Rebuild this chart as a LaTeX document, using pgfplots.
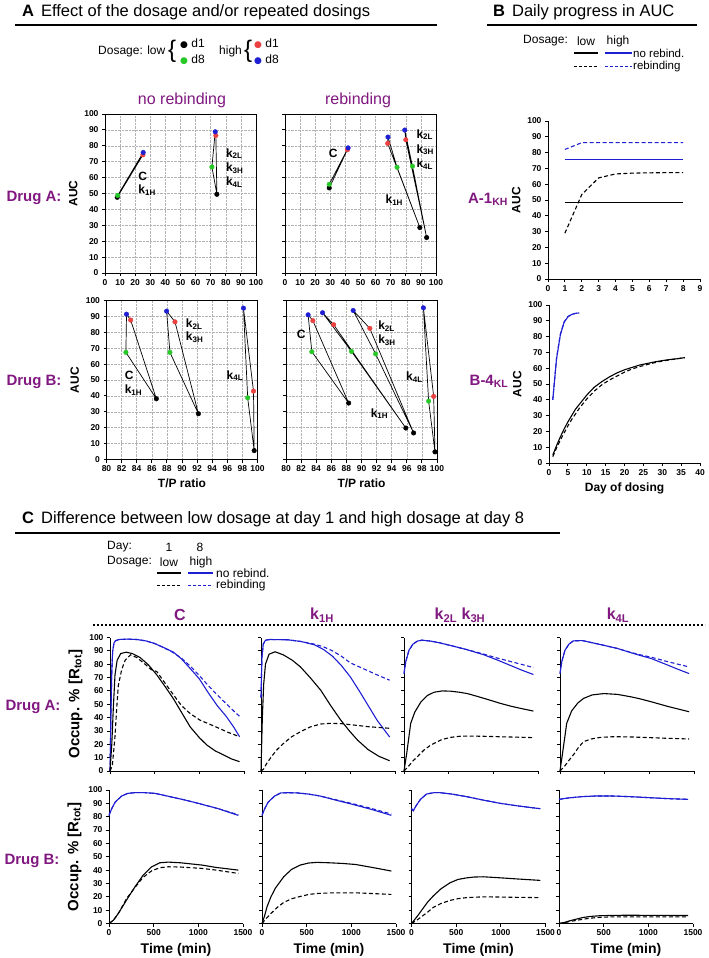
\documentclass[border=0pt]{standalone}
\usepackage{pgfplots}
\pgfplotsset{compat=1.18}
\usepackage{fontspec}
\setmainfont{Liberation Sans}
\newfontfamily\dejavu{DejaVu Sans}
\definecolor{mypurple}{RGB}{128,24,128}
\definecolor{myblue}{RGB}{30,30,210}
\definecolor{myred}{RGB}{235,65,65}
\definecolor{mygreen}{RGB}{40,200,40}
\newcommand{\fs}[1]{\fontsize{#1}{#1}\selectfont}
\tikzset{lab/.style={font=\bfseries\fs{12}, anchor=west, inner sep=0pt}}
\pgfplotsset{
  base/.style={scale only axis, anchor=south west,
    axis line style={line width=1pt, black},
    major tick style={line width=0.9pt, black},
    tick align=outside, major tick length=3pt,
    tick label style={font=\bfseries\fs{8.5}},
    /pgf/number format/assume math mode=true,
    /pgf/number format/1000 sep={},
    label style={font=\bfseries\fs{12}},
    clip=false},
  Abox/.style={base, width=151pt, height=159pt, ymin=0, ymax=100, ytick={0,10,...,100},
    grid=major, grid style={densely dotted, gray!60, line width=0.5pt}, tick pos=left},
  Bax/.style={base, width=152pt, height=158pt, ymin=0, ymax=100, ytick={0,10,...,100},
    axis x line*=bottom, axis y line*=left, tick pos=left},
  Cax/.style={base, width=134pt, height=133.5pt, xmin=0, xmax=1500, ymin=0, ymax=100,
    xtick={0,500,1000,1500}, ytick={0,10,...,100},
    axis x line*=bottom, axis y line*=left, tick pos=left,
    ylabel style={font=\bfseries\fs{15}}, xlabel style={font=\bfseries\fs{14}}},
  lk/.style={black, line width=0.7pt, mark=none},
  dk/.style={only marks, mark=*, mark size=2.3pt, black},
  dr/.style={only marks, mark=*, mark size=2.3pt, myred, mark options={fill=myred, draw=myred}},
  dg/.style={only marks, mark=*, mark size=2.3pt, mygreen, mark options={fill=mygreen, draw=mygreen}},
  db/.style={only marks, mark=*, mark size=2.3pt, myblue, mark options={fill=myblue, draw=myblue}},
  ks/.style={black, line width=1.1pt, mark=none},
  kd/.style={black, line width=1.1pt, mark=none, dash pattern=on 4pt off 2.5pt},
  bs/.style={myblue, line width=1.1pt, mark=none},
  bd/.style={myblue, line width=1.1pt, mark=none, dash pattern=on 4pt off 2.5pt},
}
\begin{document}
\begin{tikzpicture}
\useasboundingbox (0pt,0pt) rectangle (709pt,-958pt);

% A1 Drug A, no rebinding
\begin{axis}[Abox, at={(105pt,-273pt)}, xmin=0, xmax=100, xtick={0,10,...,100}, ylabel={AUC}]
\addplot[lk] coordinates {(8.1,47.6)(8.4,48.8)(25.3,75.8)(25.1,74.3)(8.1,47.6)};
\addplot[lk] coordinates {(74.1,49.5)(70.8,66.7)(73,88.8)(73.4,86.5)(74.1,49.5)};
\addplot[dk] coordinates {(8.1,47.6)(74.1,49.5)};
\addplot[dr] coordinates {(25.1,74.3)(73.4,86.5)};
\addplot[dg] coordinates {(8.4,48.8)(70.8,66.7)};
\addplot[db] coordinates {(25.3,75.8)(73,88.8)};
\node[lab] at (axis cs:22,61) {C};
\node[lab] at (axis cs:22,52) {k\textsubscript{1H}};
\node[lab] at (axis cs:80,75) {k\textsubscript{2L}};
\node[lab] at (axis cs:80,66) {k\textsubscript{3H}};
\node[lab] at (axis cs:80,57) {k\textsubscript{4L}};
\end{axis}

% A2 Drug A, rebinding
\begin{axis}[Abox, at={(285pt,-273pt)}, xmin=0, xmax=100, xtick={0,10,...,100}, yticklabels={}]
\addplot[lk] coordinates {(29.3,53.5)(29.3,55.8)(41.8,78.7)(41.3,77.5)(29.3,53.5)};
\addplot[lk] coordinates {(89.3,28.6)(74.2,66.5)(68.2,85.5)(68,81.5)(89.3,28.6)};
\addplot[lk] coordinates {(93.8,22.3)(84.4,67.2)(79.3,89.9)(80,83.8)(93.8,22.3)};
\addplot[dk] coordinates {(29.3,53.5)(89.3,28.6)(93.8,22.3)};
\addplot[dr] coordinates {(41.3,77.5)(68,81.5)(80,83.8)};
\addplot[dg] coordinates {(29.3,55.8)(74.2,66.5)(84.4,67.2)};
\addplot[db] coordinates {(41.8,78.7)(68.2,85.5)(79.3,89.9)};
\node[lab] at (axis cs:29,75.4) {C};
\node[lab] at (axis cs:66.5,46) {k\textsubscript{1H}};
\node[lab] at (axis cs:87,87) {k\textsubscript{2L}};
\node[lab] at (axis cs:87,77.5) {k\textsubscript{3H}};
\node[lab] at (axis cs:87,68.5) {k\textsubscript{4L}};
\end{axis}

% A3 Drug B, no rebinding
\begin{axis}[Abox, at={(106.5pt,-459.5pt)}, xmin=80, xmax=100, xtick={80,82,...,100}, ylabel={AUC}, xlabel={T/P ratio}]
\addplot[lk] coordinates {(86.6,38.2)(82.57,67.4)(82.65,91.4)(83.2,87.7)(86.6,38.2)};
\addplot[lk] coordinates {(92.17,28.8)(88.4,67.4)(87.96,93.3)(89.07,86.6)(92.17,28.8)};
\addplot[lk] coordinates {(99.56,5.6)(98.7,38.8)(98.14,95.2)(99.47,43)(99.56,5.6)};
\addplot[dk] coordinates {(86.6,38.2)(92.17,28.8)(99.56,5.6)};
\addplot[dr] coordinates {(83.2,87.7)(89.07,86.6)(99.47,43)};
\addplot[dg] coordinates {(82.57,67.4)(88.4,67.4)(98.7,38.8)};
\addplot[db] coordinates {(82.65,91.4)(87.96,93.3)(98.14,95.2)};
\node[lab] at (axis cs:82.4,52.8) {C};
\node[lab] at (axis cs:82.4,43.4) {k\textsubscript{1H}};
\node[lab] at (axis cs:90.5,85) {k\textsubscript{2L}};
\node[lab] at (axis cs:90.5,76.8) {k\textsubscript{3H}};
\node[lab] at (axis cs:95.9,52.8) {k\textsubscript{4L}};
\end{axis}

% A4 Drug B, rebinding
\begin{axis}[Abox, at={(286pt,-459.5pt)}, xmin=80, xmax=100, xtick={80,82,...,100}, yticklabels={}, xlabel={T/P ratio}]
\addplot[lk] coordinates {(88.3,35.5)(83.42,67.8)(82.93,91)(83.56,87.3)(88.3,35.5)};
\addplot[lk] coordinates {(95.87,19.8)(88.67,68)(84.84,92.3)(86.31,84.8)(95.87,19.8)};
\addplot[lk] coordinates {(96.9,16.7)(91.87,66.4)(88.9,93.7)(91.1,82.5)(96.9,16.7)};
\addplot[lk] coordinates {(99.73,4.8)(98.89,36.7)(98.2,95.4)(99.56,39.7)(99.73,4.8)};
\addplot[dk] coordinates {(88.3,35.5)(95.87,19.8)(96.9,16.7)(99.73,4.8)};
\addplot[dr] coordinates {(83.56,87.3)(86.31,84.8)(91.1,82.5)(99.56,39.7)};
\addplot[dg] coordinates {(83.42,67.8)(88.67,68)(91.87,66.4)(98.89,36.7)};
\addplot[db] coordinates {(82.93,91)(84.84,92.3)(88.9,93.7)(98.2,95.4)};
\node[lab] at (axis cs:81.4,79) {C};
\node[lab] at (axis cs:91.2,28.8) {k\textsubscript{1H}};
\node[lab] at (axis cs:92.2,84) {k\textsubscript{2L}};
\node[lab] at (axis cs:92.2,75) {k\textsubscript{3H}};
\node[lab] at (axis cs:95.9,51.8) {k\textsubscript{4L}};
\end{axis}

% B plots
\begin{axis}[Bax, at={(548pt,-279pt)}, xmin=0, xmax=9, xtick={0,...,9}, ylabel={AUC}]
\addplot[ks] coordinates {(1,48.5)(8,48.5)};
\addplot[bs] coordinates {(1,75.5)(8,75.5)};
\addplot[kd] coordinates {(1,29)(2,53.5)(3,64)(4,66.5)(5,67)(6,67.2)(7,67.3)(8,67.3)};
\addplot[bd] coordinates {(1,82)(2,86.3)(3,86.3)(4,86.3)(5,86.3)(6,86.3)(7,86.3)(8,86.3)};
\end{axis}

\begin{axis}[Bax, at={(549pt,-463pt)}, width=151pt, xmin=0, xmax=40, xtick={0,5,...,40}, ylabel={AUC}, xlabel={Day of dosing}]
\addplot[bs] coordinates {(1,40)(2,66)(3,81)(4,89)(5,92.5)(6,94)(7,94.7)(8,95)};
\addplot[bd] coordinates {(1,40)(2,66.5)(3,81.5)(4,89.3)(5,92.7)(6,94.1)(7,94.7)(8,95)};
\addplot[ks] coordinates {(1,5)(2,11)(3,16.5)(4,21.5)(5,26)(6,30)(7,34)(8,37)(9,40)(10,43)(12,48)(14,51.5)(16,54.5)(18,57)(20,59)(22,60.5)(24,62)(26,63)(28,64)(30,64.8)(32,65.5)(34,66)(36,66.7)};
\addplot[kd] coordinates {(1,4)(2,9.5)(3,14.5)(4,19)(5,23.5)(6,27.5)(7,31)(8,34.5)(9,37.5)(10,40.5)(12,45.5)(14,49.5)(16,52.5)(18,55)(20,57.5)(22,59.5)(24,61)(26,62.3)(28,63.5)(30,64.5)(32,65.3)(34,66)(36,66.7)};
\end{axis}

% C top row (Drug A)
\begin{axis}[Cax, at={(110pt,-771pt)}, xticklabels={}, ylabel={Occup. \% [R\textsubscript{tot}]}]
\addplot[bd] coordinates {(0,0)(10,40)(20,75)(30,90)(45,96)(60,97.5)(100,98.5)(200,98.8)(300,98.5)(400,97.5)(500,95.5)(600,92.5)(700,89)(800,84.5)(900,78.5)(1000,71.5)(1100,64)(1200,57)(1300,50.5)(1400,44)(1450,41)};
\addplot[bs] coordinates {(0,0)(10,40)(20,75)(30,90)(45,96)(60,97.5)(100,98.5)(200,98.8)(300,98.5)(400,97.5)(500,95.5)(600,92.5)(711,89)(800,84)(935,74)(1000,69)(1100,58.6)(1200,49)(1300,41)(1384,33)(1450,25.7)};
\addplot[kd] coordinates {(0,0)(26,4)(40,14)(56,26)(75,47)(93,64)(131,76)(170,83)(230,87)(300,85)(411,79)(460,76)(524,74.5)(636,64)(711,57)(800,49)(898,43)(1010,38)(1100,35.5)(1197,32.7)(1320,29)(1450,25.7)};
\addplot[ks] coordinates {(0,0)(20,20)(37,47)(56,72)(80,83)(120,88)(180,89)(250,88)(337,85)(430,79.5)(524,72)(620,63)(711,54)(800,44)(898,33)(1000,25)(1085,19.4)(1180,15)(1272,12)(1360,9)(1450,7)};
\end{axis}

\begin{axis}[Cax, at={(261pt,-771pt)}, xticklabels={}, yticklabels={}]
\addplot[bd] coordinates {(0,55)(10,85)(25,95)(50,98)(100,98.5)(300,98.3)(450,97)(600,95)(700,93)(800,90)(900,86)(1000,81)(1100,78)(1200,75)(1300,72)(1440,68)};
\addplot[bs] coordinates {(0,55)(10,85)(25,95)(50,98)(100,98.5)(300,98.3)(450,97)(600,94.5)(700,91)(800,86)(900,79)(1000,70.5)(1100,60)(1200,49)(1300,38)(1440,25.5)};
\addplot[kd] coordinates {(0,0)(30,1.5)(64,5.7)(120,11)(180,16)(253,20.7)(340,25.5)(441,29.4)(550,33)(668,35.2)(780,35.7)(894,35.5)(1045,34.4)(1200,33.2)(1440,32)};
\addplot[ks] coordinates {(0,0)(15,40)(30,65)(50,80)(90,87.5)(158,89.3)(250,87)(350,83)(441,78)(550,70)(668,60.6)(780,49)(894,38)(990,30)(1083,23)(1200,16)(1320,11)(1440,7.7)};
\end{axis}

\begin{axis}[Cax, at={(404pt,-771pt)}, xticklabels={}, yticklabels={}]
\addplot[bd] coordinates {(0,73)(20,82)(56,90.5)(100,95)(149,97.3)(200,98)(300,97.3)(400,96)(522,94)(700,91)(896,87.5)(1050,84.5)(1194,82)(1320,79.8)(1448,77.5)};
\addplot[bs] coordinates {(0,73)(20,82)(56,90.5)(100,95)(149,97.3)(200,98)(300,97.3)(400,96)(522,94)(700,91)(896,87)(1050,83)(1194,79)(1320,75.5)(1448,72.3)};
\addplot[kd] coordinates {(0,0)(50,3.5)(100,7.5)(149,10.7)(220,15.5)(290,19)(336,20.7)(420,23.5)(522,25.2)(620,26)(709,26.2)(900,26)(1100,25.6)(1300,25.3)(1448,25)};
\addplot[ks] coordinates {(0,0)(30,13)(75,35.7)(120,44)(187,51.5)(260,56.5)(336,59)(430,60)(522,59.8)(620,59)(709,58)(800,56.3)(896,54.4)(1000,52.3)(1082,50.6)(1200,48.5)(1320,46.7)(1448,44.9)};
\end{axis}

\begin{axis}[Cax, at={(560pt,-771pt)}, xticklabels={}, yticklabels={}]
\addplot[bd] coordinates {(0,73)(20,82)(56,90.5)(100,95)(150,97.5)(250,97.7)(400,95.5)(500,94)(642,91.8)(800,88.7)(900,87)(1019,85.3)(1200,82)(1320,80)(1445,78)};
\addplot[bs] coordinates {(0,73)(20,82)(56,90.5)(100,95)(150,97.5)(250,97.7)(400,95.5)(500,94)(642,91.8)(800,88.5)(900,86.5)(1019,84.3)(1200,79.5)(1320,76.2)(1445,73)};
\addplot[kd] coordinates {(0,0)(50,3.5)(100,8)(160,13)(210,18)(264,22)(350,24)(453,25.2)(600,25.7)(800,25.5)(1000,25)(1200,24.5)(1445,24)};
\addplot[ks] coordinates {(0,0)(30,14)(75,35.7)(130,45)(200,51)(264,54.4)(360,57)(491,58)(642,57.4)(800,55.5)(900,54)(1019,51.9)(1200,48.5)(1320,46.5)(1445,44.4)};
\end{axis}

% C bottom row (Drug B)
\begin{axis}[Cax, at={(109pt,-923.5pt)}, xlabel={Time (min)}, ylabel={Occup. \% [R\textsubscript{tot}]}]
\addplot[bd] coordinates {(0,81)(30,86)(70,91)(142,95.5)(210,97.5)(291,98)(400,98)(515,97.5)(650,95.5)(851,92.5)(1000,90)(1224,86)(1448,81.5)};
\addplot[bs] coordinates {(0,81)(30,86)(70,91)(142,95.5)(210,97.5)(291,98)(400,98)(515,97.5)(650,95.5)(851,92.5)(1000,90)(1224,86)(1448,81)};
\addplot[kd] coordinates {(0,0)(50,2.5)(104,7.5)(150,13)(200,19)(291,27)(380,34.5)(478,39.5)(570,41.8)(664,42.5)(800,42.3)(1037,41.3)(1200,40)(1448,37.5)};
\addplot[ks] coordinates {(0,0)(50,2.5)(104,7.5)(150,12.5)(200,18)(291,27.5)(380,36)(478,42.5)(570,45.5)(664,46)(800,45.5)(1037,43.8)(1200,42)(1448,40)};
\end{axis}

\begin{axis}[Cax, at={(262pt,-923.5pt)}, xlabel={Time (min)}, yticklabels={}]
\addplot[bd] coordinates {(0,81)(30,86)(70,91)(142,95.5)(210,97.8)(291,98)(400,97.8)(515,97)(650,95.5)(851,92.3)(1000,90)(1224,86.2)(1448,82)};
\addplot[bs] coordinates {(0,81)(30,86)(70,91)(142,95.5)(210,97.8)(291,98)(400,97.8)(515,97)(650,95.5)(851,92)(1000,89.5)(1224,85.5)(1448,81)};
\addplot[kd] coordinates {(0,0)(50,4)(100,7.5)(170,12)(243,15.8)(330,18.5)(429,20.3)(520,21.7)(615,22.5)(800,23)(1050,23)(1250,22.4)(1448,21.8)};
\addplot[ks] coordinates {(0,0)(30,6)(56,12.5)(100,20)(150,26.5)(243,35)(330,40.5)(429,43.8)(520,45.3)(615,45.8)(750,45.5)(900,45)(1050,44.2)(1250,41.8)(1448,39.3)};
\end{axis}

\begin{axis}[Cax, at={(411.5pt,-923.5pt)}, xlabel={Time (min)}, yticklabels={}]
\addplot[bd] coordinates {(0,86)(20,84.5)(50,88)(100,93)(169,97)(250,98)(318,98)(450,97)(618,95)(800,92.5)(993,90)(1200,88)(1442,86)};
\addplot[bs] coordinates {(0,86)(20,84.5)(50,88)(100,93)(169,97)(250,98)(318,98)(450,97)(618,95)(800,92.5)(993,90)(1200,88)(1442,86)};
\addplot[kd] coordinates {(0,0)(60,2.5)(120,5.5)(180,8.5)(243,12)(330,15)(431,17.3)(520,18.6)(618,19.4)(805,20)(1000,19.8)(1200,19.6)(1442,19.4)};
\addplot[ks] coordinates {(0,0)(60,5)(120,10.5)(180,16)(243,20.6)(330,26)(431,30.5)(520,33)(618,34.2)(700,34.8)(805,35)(1000,34.2)(1200,33.3)(1442,32.3)};
\end{axis}

\begin{axis}[Cax, at={(559pt,-923.5pt)}, xlabel={Time (min)}, yticklabels={}]
\addplot[bd] coordinates {(0,93)(100,94)(250,95)(400,95.5)(600,95.5)(800,95)(1000,94.3)(1200,93.6)(1445,93)};
\addplot[bs] coordinates {(0,93)(100,94)(250,95)(400,95.5)(600,95.5)(800,95)(1000,94.3)(1200,93.6)(1445,93)};
\addplot[kd] coordinates {(0,0)(60,0.6)(119,1.5)(200,2.4)(268,3.2)(350,4)(450,4.6)(600,5)(800,5)(1445,5)};
\addplot[ks] coordinates {(0,0)(60,0.8)(119,2)(200,3.4)(268,4.5)(350,5.3)(450,5.8)(600,6.1)(800,6.2)(1000,6.1)(1200,6.05)(1445,6)};
\end{axis}

\begin{scope}[x=1pt,y=1pt]
% ---------------- Panel A header ----------------
\node[anchor=west, inner sep=0pt, font=\fs{16.5}] at (22,-12) {\textbf{A}\hspace{7pt}Effect of the dosage and/or repeated dosings};
\draw[line width=1.6pt] (15,-25) -- (437,-25);
\node[anchor=west, inner sep=0pt, font=\fs{12}] at (98,-51) {Dosage: low};
\node[anchor=west, inner sep=0pt, font=\fs{24}] at (168,-51) {\{};
\node[anchor=west, inner sep=0pt, font=\fs{12}] at (180,-44) {{\dejavu\fs{9}\textcolor{black}{●}} d1};
\node[anchor=west, inner sep=0pt, font=\fs{12}] at (180,-60) {{\dejavu\fs{9}\textcolor{mygreen}{●}} d8};
\node[anchor=west, inner sep=0pt, font=\fs{12}] at (219,-51) {high};
\node[anchor=west, inner sep=0pt, font=\fs{24}] at (244,-51) {\{};
\node[anchor=west, inner sep=0pt, font=\fs{12}] at (254,-44) {{\dejavu\fs{9}\textcolor{myred}{●}} d1};
\node[anchor=west, inner sep=0pt, font=\fs{12}] at (254,-60) {{\dejavu\fs{9}\textcolor{myblue}{●}} d8};

\node[font=\fs{16}, text=mypurple] at (182,-100) {no rebinding};
\node[font=\fs{16}, text=mypurple] at (358,-100) {rebinding};
\node[font=\bfseries\fs{15}, text=mypurple] at (34,-198) {Drug A:};
\node[font=\bfseries\fs{15}, text=mypurple] at (34,-382) {Drug B:};

% ---------------- Panel B ----------------
\node[anchor=west, inner sep=0pt, font=\fs{16.5}] at (493,-12) {\textbf{B}\hspace{7pt}Daily progress in AUC};
\draw[line width=1.6pt] (487,-25) -- (697,-25);
\node[anchor=west, inner sep=0pt, font=\fs{12}] at (523,-41) {Dosage:};
\node[inner sep=0pt, font=\fs{12}] at (586,-41) {low};
\node[inner sep=0pt, font=\fs{12}] at (618,-41) {high};
\draw[black, line width=1.4pt] (574,-53) -- (598,-53);
\draw[myblue, line width=1.4pt] (605,-53) -- (632,-53);
\node[anchor=west, inner sep=0pt, font=\fs{11.5}] at (633,-53.5) {no rebind.};
\draw[black, line width=1.1pt, dash pattern=on 3pt off 2pt] (574,-66.5) -- (598,-66.5);
\draw[myblue, line width=1.1pt, dash pattern=on 3pt off 2pt] (605,-66.5) -- (632,-66.5);
\node[anchor=west, inner sep=0pt, font=\fs{11.5}] at (633,-66.5) {rebinding};
\node[font=\bfseries\fs{15}, text=mypurple] at (488,-199) {A-1\textsubscript{KH}};
\node[font=\bfseries\fs{15}, text=mypurple] at (489,-381) {B-4\textsubscript{KL}};

% ---------------- Panel C ----------------
\node[anchor=west, inner sep=0pt, font=\fs{16.5}] at (22,-519) {\textbf{C}\hspace{7pt}Difference between low dosage at day 1 and high dosage at day 8};
\draw[line width=1.6pt] (15,-533) -- (560,-533);
\node[anchor=west, inner sep=0pt, font=\fs{12}] at (107,-547) {Day:};
\node[inner sep=0pt, font=\fs{12}] at (169,-547) {1};
\node[inner sep=0pt, font=\fs{12}] at (200,-547) {8};
\node[anchor=west, inner sep=0pt, font=\fs{12}] at (107,-562) {Dosage:};
\node[inner sep=0pt, font=\fs{12}] at (169,-562) {low};
\node[inner sep=0pt, font=\fs{12}] at (201,-562) {high};
\draw[black, line width=1.4pt] (157,-573) -- (181,-573);
\draw[myblue, line width=1.4pt] (188,-573) -- (213,-573);
\node[anchor=west, inner sep=0pt, font=\fs{12}] at (216,-573) {no rebind.};
\draw[black, line width=1.1pt, dash pattern=on 3pt off 2pt] (157,-585.5) -- (181,-585.5);
\draw[myblue, line width=1.1pt, dash pattern=on 3pt off 2pt] (188,-585.5) -- (213,-585.5);
\node[anchor=west, inner sep=0pt, font=\fs{12}] at (216,-585.5) {rebinding};

\node[font=\bfseries\fs{16}, text=mypurple] at (180,-615) {C};
\node[font=\bfseries\fs{16}, text=mypurple] at (322,-615) {k\textsubscript{1H}};
\node[font=\bfseries\fs{16}, text=mypurple] at (460,-615) {k\textsubscript{2L} k\textsubscript{3H}};
\node[font=\bfseries\fs{16}, text=mypurple] at (618,-615) {k\textsubscript{4L}};
\draw[line width=2.4pt, dash pattern=on 2pt off 2pt] (93,-625) -- (705,-625);
\node[font=\bfseries\fs{15}, text=mypurple] at (33,-707) {Drug A:};
\node[font=\bfseries\fs{15}, text=mypurple] at (32,-861) {Drug B:};
\end{scope}
\end{tikzpicture}
\end{document}
